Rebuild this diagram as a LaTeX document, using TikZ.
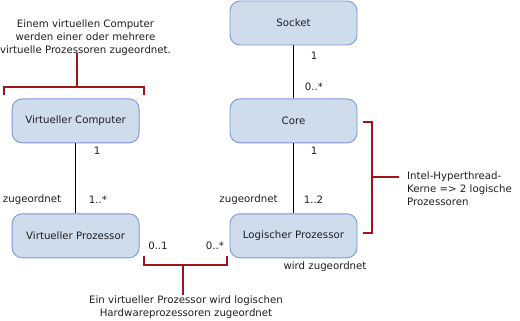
\documentclass[tikz,border=0pt]{standalone}
\usepackage{fontspec}
\setmainfont{DejaVu Sans}
\usepackage{tikz}
\usetikzlibrary{positioning}
\definecolor{BoxFill}{RGB}{206,220,236}
\definecolor{BoxEdge}{RGB}{126,150,214}
\definecolor{Bracket}{RGB}{160,20,28}
\definecolor{Ink}{RGB}{30,30,30}
\tikzset{
  entity/.style={draw=BoxEdge,line width=0.9pt,rounded corners=10pt,fill=BoxFill,minimum width=127pt,minimum height=44pt,align=center,text=Ink},
  lbl/.style={inner sep=0pt,text=Ink},
  note/.style={inner sep=0pt,text=Ink,align=center},
  assoc/.style={line width=1pt,draw=black},
  brace/.style={line width=1.6pt,draw=Bracket}
}
\begin{document}
\begin{tikzpicture}[x=1pt,y=-1pt,node distance=53pt and 90pt,font=\fontsize{10.2}{13}\selectfont]
\useasboundingbox (0,0) rectangle (520,321);
\node[entity] (socket) at (293.5,23) {Socket};
\node[entity,below=of socket] (core) {Core};
\node[entity,below=70pt of core] (lproc) {Logischer Prozessor};
\node[entity,left=of core] (vcomp) {Virtueller Computer};
\node[entity,below=70pt of vcomp] (vproc) {Virtueller Prozessor};
\draw[assoc] (socket)--(core); \draw[assoc] (core)--(lproc); \draw[assoc] (vcomp)--(vproc);
% multiplicities
\node[lbl] (m1) at (314,56) {1};
\node[lbl] (m2) at (314,87) {0..*};
\node[lbl] (m3) at (314,151) {1};
\node[lbl] (m4) at (313.5,200) {1..2};
\node[lbl] (z1) at (248.5,200) {zugeordnet};
\node[lbl] (m5) at (97,151) {1};
\node[lbl] (m6) at (98,200) {1..*};
\node[lbl] (z2) at (32,200) {zugeordnet};
\node[lbl] (m7) at (158,246) {0..1};
\node[lbl] (m8) at (215,246) {0..*};
\node[lbl] (z3) at (325,267) {wird zugeordnet};
% notes
\node[note] (topnote) at (85.5,38) {Einem virtuellen Computer\\werden einer oder mehrere\\virtuelle Prozessoren zugeordnet.};
\node[note] (botnote) at (186,307) {Ein virtueller Prozessor wird logischen\\Hardwareprozessoren zugeordnet};
\node[note,align=left,anchor=west] (htnote) at (407,188.5) {Intel-Hyperthread-\\Kerne => 2 logische\\Prozessoren};
% brackets
\coordinate (tb) at (77,87); \coordinate (bb) at (183,265); \coordinate (rb) at (372,177);
\draw[brace] (4,95)--(4,87)--(144,87)--(144,95); \draw[brace] (tb)--([yshift=3pt]topnote.south -| tb);
\draw[brace] (144,256)--(144,265)--(227,265)--(227,256); \draw[brace] (bb)--(botnote.north -| bb);
\draw[brace] (363,122)--(372,122)--(372,233)--(363,233); \draw[brace] (rb)--(399,177);
\end{tikzpicture}
\end{document}
